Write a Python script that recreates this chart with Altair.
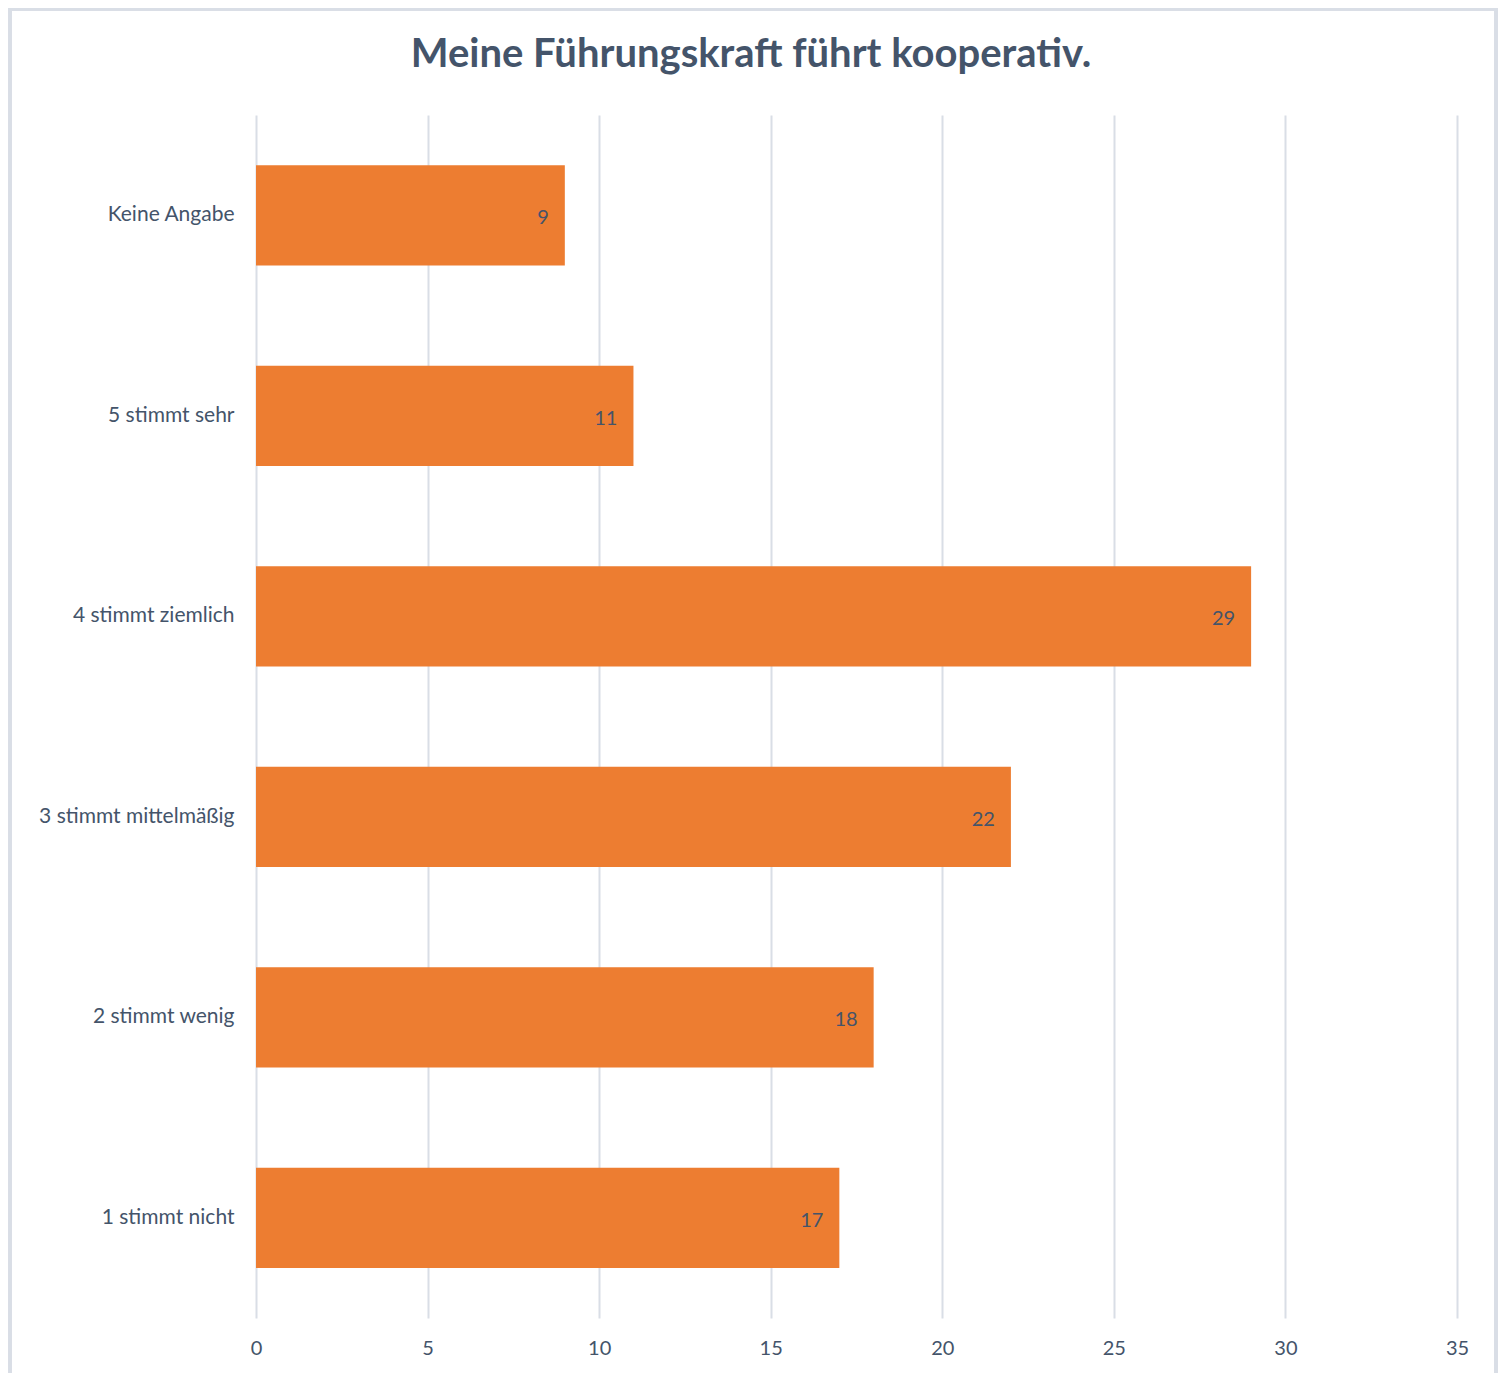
import altair as alt
import pandas as pd

categories = ["Keine Angabe", "5 stimmt sehr", "4 stimmt ziemlich",
              "3 stimmt mittelmäßig", "2 stimmt wenig", "1 stimmt nicht"]
values = [9, 11, 29, 22, 18, 17]
x_ticks = [0, 5, 10, 15, 20, 25, 30, 35]
title_text = ["Meine Führungskraft führt kooperativ."]

df = pd.DataFrame({"cat": categories, "val": values})
tdf = pd.DataFrame({"t": title_text})

FONT = "Lato"
W, H = 1201, 1203

y_enc = alt.Y("cat:N", sort=categories, title=None,
              scale=alt.Scale(paddingInner=0.5, paddingOuter=0.25),
              axis=alt.Axis(labelFontSize=21, labelColor="#44546A", labelFont=FONT,
                            labelPadding=22, ticks=False, domain=False, grid=False,
                            labelLimit=300))
x_enc = alt.X("val:Q", title=None,
              scale=alt.Scale(domain=[0, 35], nice=False),
              axis=alt.Axis(values=x_ticks, labelFontSize=20, labelColor="#44546A",
                            labelFont=FONT, labelPadding=20, ticks=False, domain=False,
                            labelFlush=False,
                            grid=True, gridColor="#D9DEE6", gridWidth=2))

bars = alt.Chart(df).mark_bar(color="#ED7D31").encode(x=x_enc, y=y_enc)

labels = alt.Chart(df).mark_text(align="right", baseline="middle", dx=-16, dy=3,
                                 fontSize=20, font=FONT, color="#44546A").encode(
    x="val:Q", y=alt.Y("cat:N", sort=categories), text="val:Q")

frame = alt.Chart(df).mark_rect(fillOpacity=0, stroke="#D9DEE6", strokeWidth=3).encode(
    x=alt.value(-246), x2=alt.value(1240), y=alt.value(-106), y2=alt.value(H + 80))

title = alt.Chart(tdf).mark_text(fontSize=40, font=FONT, fontWeight="bold",
                                 color="#44546A", align="center", baseline="middle").encode(
    x=alt.value(495), y=alt.value(-60), text="t:N")

chart = alt.layer(frame, bars, labels, title).properties(
    width=W, height=H,
    autosize=alt.AutoSizeParams(type="none"),
    padding={"left": 248, "top": 107, "right": 42, "bottom": 58},
).configure_view(stroke=None)

chart.save("out.html", embed_options={"renderer": "svg", "actions": False})
